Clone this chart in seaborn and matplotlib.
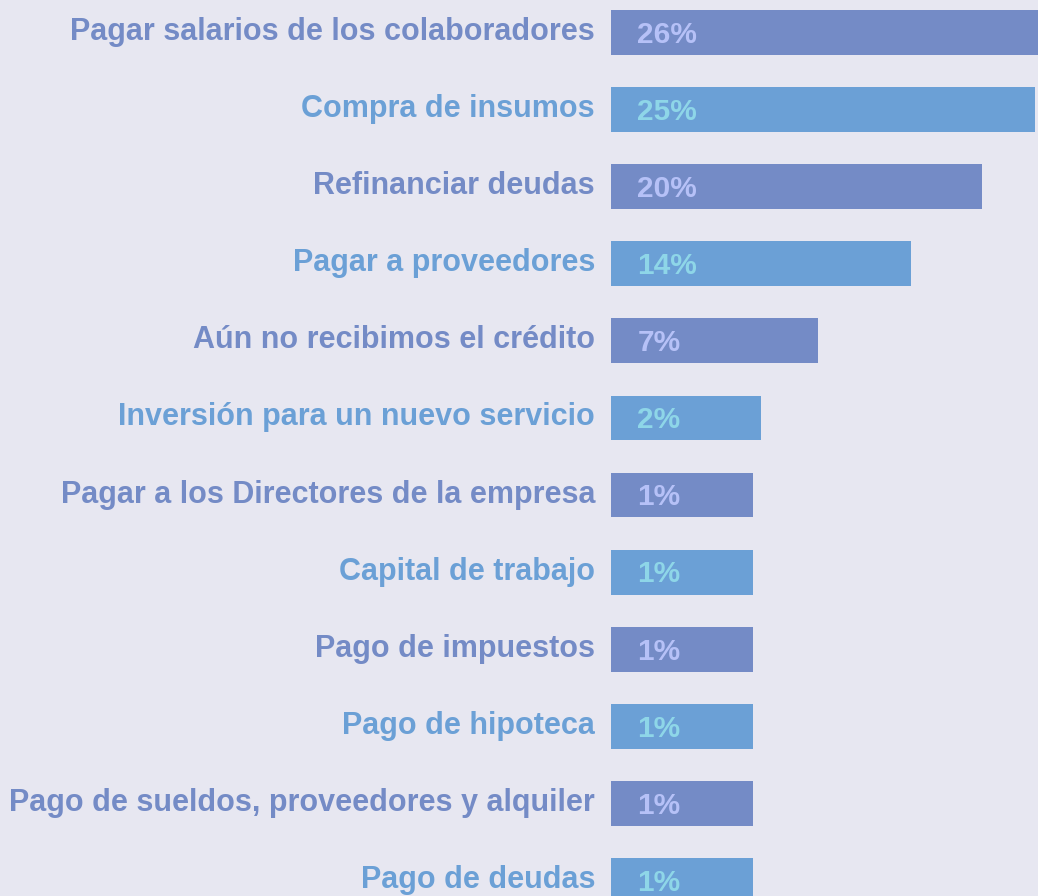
import pandas as pd
import matplotlib.pyplot as plt
import matplotlib.transforms as mtransforms
import seaborn as sns

categories = ['Pagar salarios de los colaboradores', 'Compra de insumos', 'Refinanciar deudas',
              'Pagar a proveedores', 'Aún no recibimos el crédito', 'Inversión para un nuevo servicio',
              'Pagar a los Directores de la empresa', 'Capital de trabajo', 'Pago de impuestos',
              'Pago de hipoteca', 'Pago de sueldos, proveedores y alquiler', 'Pago de deudas']
values = [26.2, 24.7, 20.3, 14.4, 6.6, 1.8, 1.2, 1.2, 1.2, 1.2, 1.2, 1.2]
labels = ['26%', '25%', '20%', '14%', '7%', '2%', '1%', '1%', '1%', '1%', '1%', '1%']

# bars have a minimum visible stub before the value part starts
bar_base = 10.7

bar_colors = ['#748BC6', '#6BA0D6']
value_colors = ['#B6C1F7', '#8ED6E8']
bg = '#E7E7F1'

df = pd.DataFrame({'category': categories, 'value': values})
df['length'] = df['value'] + bar_base
df['group'] = ['a' if i % 2 == 0 else 'b' for i in range(len(df))]

sns.set_theme(style='white')
plt.rcParams['font.family'] = ['Liberation Sans', 'DejaVu Sans']

fig = plt.figure(figsize=(10.38, 8.96), dpi=100, facecolor=bg)
ax = fig.add_axes([611 / 1038, 0, 1 - 611 / 1038, 1])
ax.set_facecolor(bg)

sns.barplot(data=df, y='category', x='length', hue='group', palette=bar_colors,
            orient='h', width=0.58, dodge=False, legend=False, saturation=1,
            linewidth=0, edgecolor='none', ax=ax)

ax.set_xlim(0, 35.67)
ax.set_ylim(11.2, -0.42)
for s in ax.spines.values():
    s.set_visible(False)
ax.set_xticks([])
ax.set_xlabel('')
ax.set_ylabel('')
ax.tick_params(axis='y', length=0, pad=11.5)
lift = mtransforms.ScaledTranslation(0, 4 / 100, fig.dpi_scale_trans)
for i, t in enumerate(ax.get_yticklabels()):
    t.set_color(bar_colors[i % 2])
    t.set_fontsize(22)
    t.set_fontweight('bold')
    t.set_transform(t.get_transform() + lift)

for i, lab in enumerate(labels):
    ax.text(2.2, i + 0.03, lab, color=value_colors[i % 2], fontsize=21.5, fontweight='bold',
            va='center', ha='left')

plt.savefig('out.png', dpi=100, facecolor=bg)
